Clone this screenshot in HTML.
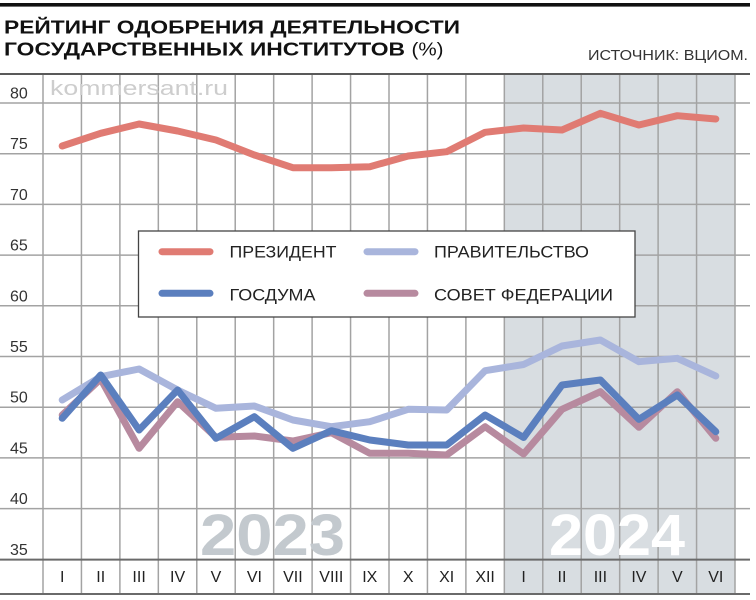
<!DOCTYPE html>
<html>
<head>
<meta charset="utf-8">
<style>
html,body{margin:0;padding:0;background:#fff;}
svg{display:block;}
text{font-family:"Liberation Sans","Noto Sans CJK SC",sans-serif;}
</style>
</head>
<body>
<svg width="756" height="600" viewBox="0 0 756 600" xmlns="http://www.w3.org/2000/svg">
  <rect x="0" y="0" width="756" height="600" fill="#fff"/>
  <!-- top bar -->
  <rect x="0" y="3" width="750" height="3.6" fill="#111"/>
  <!-- title -->
  <text x="4" y="33.3" font-size="18" font-weight="bold" fill="#111" textLength="456" lengthAdjust="spacingAndGlyphs">РЕЙТИНГ ОДОБРЕНИЯ ДЕЯТЕЛЬНОСТИ</text>
  <text x="4" y="55.3" font-size="18" font-weight="bold" fill="#111" textLength="401" lengthAdjust="spacingAndGlyphs">ГОСУДАРСТВЕННЫХ ИНСТИТУТОВ</text>
  <text x="411.5" y="55.3" font-size="18" fill="#111" textLength="32" lengthAdjust="spacingAndGlyphs">(%)</text>
  <text x="588" y="60" font-size="14.5" fill="#333" textLength="160" lengthAdjust="spacingAndGlyphs">ИСТОЧНИК: ВЦИОМ.</text>

  <!-- shaded 2024 -->
  <rect x="505" y="75" width="230" height="519" fill="#d8dde1"/>

  <!-- title rule -->
  <line x1="0" y1="74" x2="750" y2="74" stroke="#222" stroke-width="1.6"/>

  <!-- horizontal gridlines -->
  <g stroke="#a3a3a3" stroke-width="1.5">
    <line x1="0" y1="103" x2="750" y2="103"/>
    <line x1="0" y1="153.7" x2="750" y2="153.7"/>
    <line x1="0" y1="204.4" x2="750" y2="204.4"/>
    <line x1="0" y1="255.1" x2="750" y2="255.1"/>
    <line x1="0" y1="305.8" x2="750" y2="305.8"/>
    <line x1="0" y1="356.5" x2="750" y2="356.5"/>
    <line x1="0" y1="407.2" x2="750" y2="407.2"/>
    <line x1="0" y1="457.9" x2="750" y2="457.9"/>
    <line x1="0" y1="508.6" x2="750" y2="508.6"/>
  </g>
  <!-- vertical gridlines -->
  <g stroke="#a3a3a3" stroke-width="1.5">
    <line x1="43" y1="75" x2="43" y2="594"/>
    <line x1="81.44" y1="75" x2="81.44" y2="594"/>
    <line x1="119.89" y1="75" x2="119.89" y2="594"/>
    <line x1="158.33" y1="75" x2="158.33" y2="594"/>
    <line x1="196.78" y1="75" x2="196.78" y2="594"/>
    <line x1="235.22" y1="75" x2="235.22" y2="594"/>
    <line x1="273.67" y1="75" x2="273.67" y2="594"/>
    <line x1="312.11" y1="75" x2="312.11" y2="594"/>
    <line x1="350.56" y1="75" x2="350.56" y2="594"/>
    <line x1="389" y1="75" x2="389" y2="594"/>
    <line x1="427.44" y1="75" x2="427.44" y2="594"/>
    <line x1="465.89" y1="75" x2="465.89" y2="594"/>
    <line x1="504.33" y1="75" x2="504.33" y2="594"/>
    <line x1="542.78" y1="75" x2="542.78" y2="594"/>
    <line x1="581.22" y1="75" x2="581.22" y2="594"/>
    <line x1="619.67" y1="75" x2="619.67" y2="594"/>
    <line x1="658.11" y1="75" x2="658.11" y2="594"/>
    <line x1="696.56" y1="75" x2="696.56" y2="594"/>
    <line x1="735" y1="75" x2="735" y2="594"/>
  </g>
  <!-- axis lines -->
  <line x1="0" y1="559.6" x2="750" y2="559.6" stroke="#6a6a6a" stroke-width="2"/>
  <line x1="0" y1="594" x2="750" y2="594" stroke="#6a6a6a" stroke-width="2"/>

  <!-- watermark -->
  <text x="50" y="95" font-size="20" fill="#cdcdcd" textLength="178" lengthAdjust="spacingAndGlyphs">kommersant.ru</text>

  <!-- year labels -->
  <text x="200" y="555" font-size="58" font-weight="bold" fill="#c3c9ce" textLength="145" lengthAdjust="spacingAndGlyphs">2023</text>
  <text x="549" y="555" font-size="58" font-weight="bold" fill="#ffffff" textLength="136" lengthAdjust="spacingAndGlyphs">2024</text>

  <!-- y labels -->
  <g font-size="16" fill="#333">
    <text x="10" y="98.5">80</text>
    <text x="10" y="149.2">75</text>
    <text x="10" y="199.9">70</text>
    <text x="10" y="250.6">65</text>
    <text x="10" y="301.3">60</text>
    <text x="10" y="352">55</text>
    <text x="10" y="402.7">50</text>
    <text x="10" y="453.4">45</text>
    <text x="10" y="504.1">40</text>
    <text x="10" y="554.8">35</text>
  </g>

  <!-- month labels -->
  <g font-size="16" fill="#222" text-anchor="middle">
    <text x="62.2" y="582">I</text>
    <text x="100.7" y="582">II</text>
    <text x="139.1" y="582">III</text>
    <text x="177.6" y="582">IV</text>
    <text x="216" y="582">V</text>
    <text x="254.4" y="582">VI</text>
    <text x="292.9" y="582">VII</text>
    <text x="331.3" y="582">VIII</text>
    <text x="369.8" y="582">IX</text>
    <text x="408.2" y="582">X</text>
    <text x="446.7" y="582">XI</text>
    <text x="485.1" y="582">XII</text>
    <text x="523.6" y="582">I</text>
    <text x="562" y="582">II</text>
    <text x="600.4" y="582">III</text>
    <text x="638.9" y="582">IV</text>
    <text x="677.3" y="582">V</text>
    <text x="715.8" y="582">VI</text>
  </g>

  <!-- series -->
  <g fill="none" stroke-width="7" stroke-linecap="round" stroke-linejoin="round">
    <!-- Совет Федерации -->
    <polyline stroke="#b78a9f" points="62.2,415 100.7,379 139.1,448.3 177.6,401.7 216,437.3 254.4,436 292.9,441 331.3,432.7 369.8,453.3 408.2,453.3 446.7,455 485.1,426.7 523.6,454 562,409.3 600.4,391.7 638.9,427.3 677.3,391.7 715.8,438.3"/>
    <!-- Правительство -->
    <polyline stroke="#a9b5dc" points="62.2,400 100.7,376.7 139.1,369 177.6,390 216,408.3 254.4,406 292.9,420 331.3,426.7 369.8,421.7 408.2,409.3 446.7,410 485.1,370.7 523.6,364.5 562,346 600.4,340 638.9,361.7 677.3,358.3 715.8,376"/>
    <!-- Госдума -->
    <polyline stroke="#5b7fbe" points="62.2,418.3 100.7,375 139.1,430 177.6,390 216,438.3 254.4,416.7 292.9,448.3 331.3,430.7 369.8,440 408.2,445 446.7,445 485.1,415 523.6,437.5 562,385 600.4,380 638.9,419.3 677.3,395 715.8,431.7"/>
    <!-- Президент -->
    <polyline stroke="#e07b73" points="62.2,146 100.7,133.3 139.1,124 177.6,131 216,140 254.4,155 292.9,167.7 331.3,167.7 369.8,166.7 408.2,156 446.7,151.7 485.1,132.3 523.6,128 562,130 600.4,113.3 638.9,125 677.3,115.7 715.8,119"/>
  </g>

  <!-- legend -->
  <rect x="138.5" y="231" width="496.5" height="86" fill="#fff" stroke="#444" stroke-width="1.3"/>
  <g stroke-width="7" stroke-linecap="round">
    <line x1="162" y1="251.7" x2="210" y2="251.7" stroke="#e07b73"/>
    <line x1="367" y1="251.7" x2="415" y2="251.7" stroke="#a9b5dc"/>
    <line x1="162" y1="293.3" x2="210" y2="293.3" stroke="#5b7fbe"/>
    <line x1="367" y1="293.3" x2="415" y2="293.3" stroke="#b78a9f"/>
  </g>
  <g font-size="17" fill="#222">
    <text x="229.5" y="257.5" textLength="107" lengthAdjust="spacingAndGlyphs">ПРЕЗИДЕНТ</text>
    <text x="434" y="257.5" textLength="155" lengthAdjust="spacingAndGlyphs">ПРАВИТЕЛЬСТВО</text>
    <text x="229.5" y="300.5" textLength="86" lengthAdjust="spacingAndGlyphs">ГОСДУМА</text>
    <text x="434" y="300.5" textLength="179" lengthAdjust="spacingAndGlyphs">СОВЕТ ФЕДЕРАЦИИ</text>
  </g>
</svg>
</body>
</html>
